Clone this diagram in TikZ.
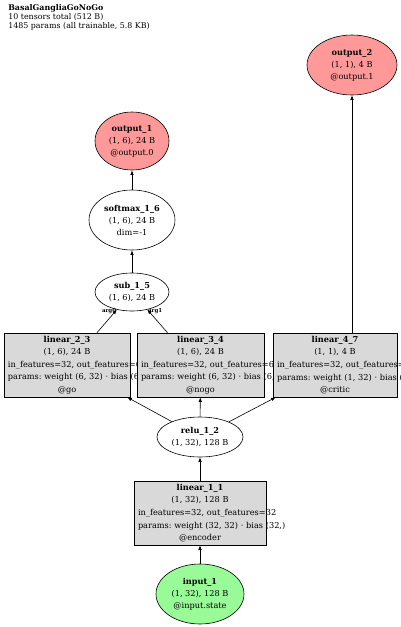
\documentclass[tikz,border=0pt]{standalone}
\usepackage{fontspec}
\setmainfont{DejaVu Serif}
\usetikzlibrary{shapes.geometric, arrows.meta}
\definecolor{outred}{HTML}{FF9999}
\definecolor{ingreen}{HTML}{98FB98}
\definecolor{opgray}{HTML}{D9D9D9}
\newcommand\lbl[1]{\textbf{#1}}

\begin{document}
\begin{tikzpicture}[x=1pt, y=-1pt, line width=0.6pt,
    tensor/.style={ellipse, draw, inner sep=0pt, align=center,
                   font=\fontsize{8.2}{12}\selectfont\frenchspacing},
    opbox/.style={rectangle, draw, fill=opgray, inner xsep=4pt, inner ysep=0pt,
                  minimum height=64pt, text width=118pt, align=center,
                  font=\fontsize{8.2}{12.6}\selectfont\frenchspacing},
    edge/.style={-{Latex[length=4.5pt,width=3.5pt]}},
    arglbl/.style={font=\fontsize{5.5}{5.5}\selectfont\bfseries, inner sep=0pt}]
  \useasboundingbox (0,0) rectangle (400,627);

  % header
  \node[anchor=north west, align=left, inner sep=0pt,
        font=\fontsize{7.9}{9.3}\selectfont\frenchspacing] (title) at (8,4)
    {\lbl{BasalGangliaGoNoGo}\\10 tensors total (512 B)\\1485 params (all trainable, 5.8 KB)};

  % tensors
  \node[tensor, fill=ingreen, minimum width=88pt, minimum height=60pt] (input1) at (200,594)
    {\lbl{input\_1}\\(1, 32), 128 B\\@input.state};
  \node[tensor, fill=white, minimum width=86pt, minimum height=40pt] (relu12) at (200,437)
    {\lbl{relu\_1\_2}\\(1, 32), 128 B};
  \node[tensor, fill=white, minimum width=74pt, minimum height=38pt] (sub15) at (132,292)
    {\lbl{sub\_1\_5}\\(1, 6), 24 B};
  \node[tensor, fill=white, minimum width=86pt, minimum height=60pt] (softmax16) at (132,220)
    {\lbl{softmax\_1\_6}\\(1, 6), 24 B\\dim=-1};
  \node[tensor, fill=outred, minimum width=74pt, minimum height=58pt] (output1) at (132,141)
    {\lbl{output\_1}\\(1, 6), 24 B\\@output.0};
  \node[tensor, fill=outred, minimum width=90pt, minimum height=60pt] (output2) at (352,65)
    {\lbl{output\_2}\\(1, 1), 4 B\\@output.1};

  % modules
  \node[opbox, text width=124pt] (linear11) at (200,513)
    {\lbl{linear\_1\_1}\\(1, 32), 128 B\\\mbox{in\_features=32, out\_features=32}\\\mbox{params: weight (32, 32) · bias (32,)}\\@encoder};
  \node[opbox, text width=118pt] (linear23) at (67,365)
    {\lbl{linear\_2\_3}\\(1, 6), 24 B\\\mbox{in\_features=32, out\_features=6}\\\mbox{params: weight (6, 32) · bias (6,)}\\@go};
  \node[opbox, text width=119pt] (linear34) at (200.5,365)
    {\lbl{linear\_3\_4}\\(1, 6), 24 B\\\mbox{in\_features=32, out\_features=6}\\\mbox{params: weight (6, 32) · bias (6,)}\\@nogo};
  \node[opbox, text width=116pt] (linear47) at (335,365)
    {\lbl{linear\_4\_7}\\(1, 1), 4 B\\\mbox{in\_features=32, out\_features=1}\\\mbox{params: weight (1, 32) · bias (1,)}\\@critic};

  % edges
  \draw[edge] (input1) -- (linear11);
  \draw[edge] (linear11) -- (relu12);
  \draw[edge] (relu12) -- ([xshift=-3pt]linear23.south east);
  \draw[edge] (relu12) -- (linear34);
  \draw[edge] (relu12) -- ([xshift=3pt]linear47.south west);
  \draw[edge] ([xshift=30pt]linear23.north) -- (sub15)
    node[arglbl, pos=0.93, left=-1pt] (arg0) {arg0};
  \draw[edge] ([xshift=-33pt]linear34.north) -- (sub15)
    node[arglbl, pos=0.93, right=-1pt] (arg1) {arg1};
  \draw[edge] (sub15) -- (softmax16);
  \draw[edge] (softmax16) -- (output1);
  \draw[edge] (output2.south |- linear47.north) -- (output2);
\end{tikzpicture}
\end{document}
